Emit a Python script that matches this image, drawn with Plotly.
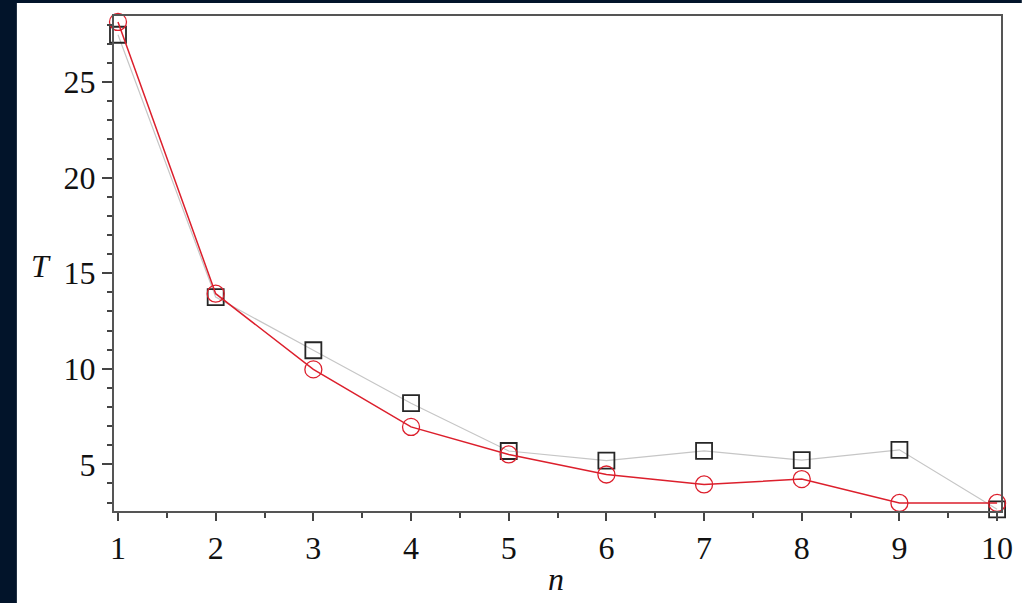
import plotly.graph_objects as go

n_values = [1, 2, 3, 4, 5, 6, 7, 8, 9, 10]
T_squares = [27.48, 13.75, 10.97, 8.2, 5.7, 5.2, 5.71, 5.22, 5.76, 2.65]
T_circles = [28.15, 13.93, 9.97, 6.96, 5.52, 4.47, 3.95, 4.23, 2.98, 2.98]

W, H = 1025, 603
ml, mr, mt, mb = 114, 16, 16, 89
pw, ph = W - ml - mr, H - mt - mb

fig = go.Figure()
fig.add_trace(go.Scatter(
    x=n_values, y=T_squares, mode="lines+markers",
    line=dict(color="#c6c6c6", width=1.2),
    marker=dict(symbol="square-open", size=16, color="#262626", line=dict(width=1.8)),
    showlegend=False, cliponaxis=False,
))
fig.add_trace(go.Scatter(
    x=n_values, y=T_circles, mode="lines+markers",
    line=dict(color="#dc1f2c", width=1.5),
    marker=dict(symbol="circle-open", size=17, color="#dc1f2c", line=dict(width=1.3)),
    showlegend=False, cliponaxis=False,
))

def px_x(p):
    return (p - ml) / pw

def px_y(p):
    return (H - mb - p) / ph

dark = "#02142a"
# dark frame strips (left and top)
fig.add_shape(type="rect", xref="paper", yref="paper",
              x0=px_x(-5), x1=px_x(16), y0=px_y(H + 5), y1=px_y(-5),
              fillcolor=dark, line=dict(width=0), layer="below")
fig.add_shape(type="rect", xref="paper", yref="paper",
              x0=px_x(-5), x1=px_x(W + 5), y0=px_y(3), y1=px_y(-5),
              fillcolor=dark, line=dict(width=0), layer="below")

axis_font = dict(family="'Liberation Serif', 'Times New Roman', serif", size=32, color="#111111")

fig.update_layout(
    width=W, height=H,
    margin=dict(l=ml, r=mr, t=mt, b=mb, pad=0),
    paper_bgcolor="white",
    plot_bgcolor="white",
    xaxis=dict(
        range=[0.959, 10.04], tickvals=n_values, ticktext=[str(v) for v in n_values],
        showgrid=False, zeroline=False,
        showline=True, linecolor="#555555", linewidth=2, mirror=True,
        ticks="outside", ticklen=8, tickwidth=1.5, tickcolor="#444444",
        minor=dict(dtick=0.5, tick0=1, ticks="outside", ticklen=5, tickwidth=1.5, tickcolor="#444444"),
        tickfont=axis_font,
        title=dict(text=""),
    ),
    yaxis=dict(
        range=[2.56, 28.46], tickvals=[5, 10, 15, 20, 25],
        showgrid=False, zeroline=False,
        showline=True, linecolor="#555555", linewidth=2, mirror=True,
        ticks="outside", ticklen=10, tickwidth=1.5, tickcolor="#444444",
        minor=dict(dtick=1, tick0=0, ticks="outside", ticklen=5, tickwidth=1.5, tickcolor="#444444"),
        tickfont=axis_font,
        title=dict(text=""),
    ),
)

fig.add_annotation(text="<i>T</i>", xref="paper", yref="paper",
                   x=px_x(40), y=px_y(268), showarrow=False,
                   font=axis_font, xanchor="center", yanchor="middle")
fig.add_annotation(text="<i>n</i>", xref="paper", yref="paper",
                   x=px_x(560), y=px_y(582), showarrow=False,
                   font=axis_font, xanchor="center", yanchor="middle")

fig.write_html("out.html", config={"displayModeBar": False},
               post_script="document.body.style.margin='0';document.body.style.overflow='hidden';")
